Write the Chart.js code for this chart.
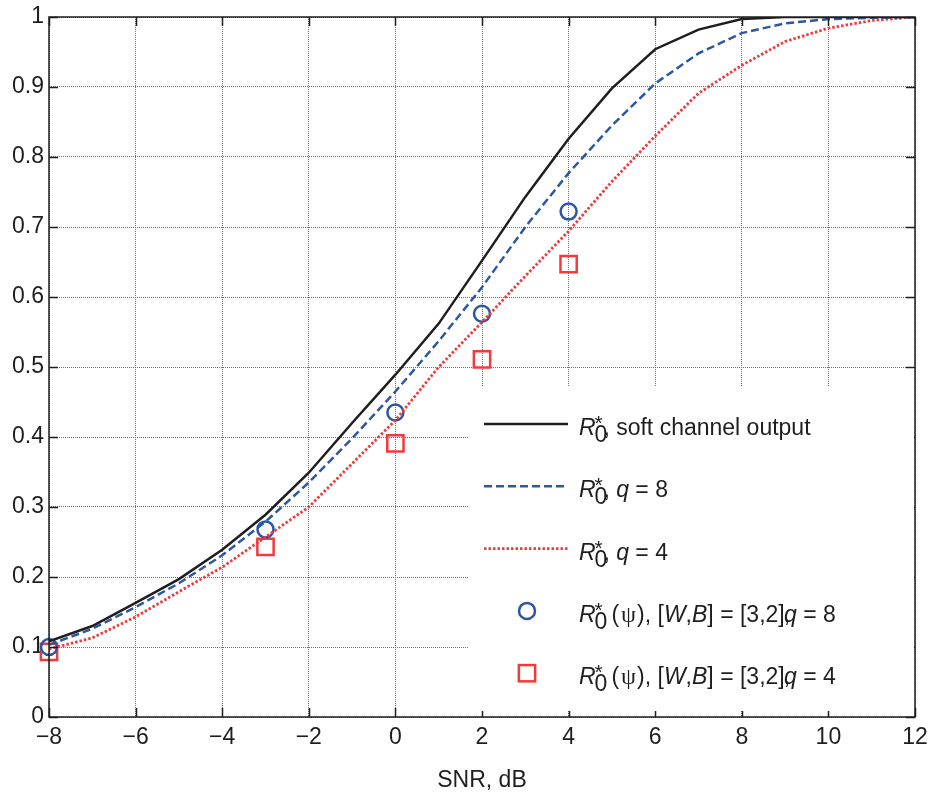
<!DOCTYPE html>
<html>
<head>
<meta charset="utf-8">
<script src="https://cdn.jsdelivr.net/npm/chart.js@4.4.1/dist/chart.umd.min.js"></script>
<style>
  html, body { margin: 0; padding: 0; background: #fff; }
  #wrap { width: 929px; height: 796px; }
</style>
</head>
<body>
<div id="wrap"><canvas id="chart" width="929" height="796"></canvas></div>
<script>
// SNR grid (dB) and curves
const snr = [-8, -7, -6, -5, -4, -3, -2, -1, 0, 1, 2, 3, 4, 5, 6, 7, 8, 9, 10, 11, 12];
const softOutput = [0.108, 0.130, 0.163, 0.197, 0.239, 0.289, 0.349, 0.420, 0.489, 0.562, 0.652, 0.743, 0.826, 0.898, 0.954, 0.982, 0.997, 1.0, 1.0, 1.0, 1.0];
const quantQ8 = [0.103, 0.126, 0.157, 0.191, 0.231, 0.279, 0.335, 0.398, 0.465, 0.537, 0.614, 0.700, 0.777, 0.845, 0.905, 0.948, 0.977, 0.991, 0.997, 0.999, 1.0];
const quantQ4 = [0.097, 0.113, 0.143, 0.179, 0.214, 0.257, 0.300, 0.362, 0.424, 0.500, 0.564, 0.630, 0.694, 0.765, 0.830, 0.891, 0.931, 0.965, 0.984, 0.995, 1.0];

// marker points R0*(psi), [W,B] = [3,2]
const markerSnr = [-8, -3, 0, 2, 4];
const psiQ8 = [0.100, 0.268, 0.435, 0.576, 0.722];
const psiQ4 = [0.093, 0.243, 0.391, 0.511, 0.647];

const xMin = -8, xMax = 12, xStep = 2;
const yMin = 0, yMax = 1, yStep = 0.1;

const BLACK = '#1e1e1e';
const BLUE = '#2c57a3';
const RED = '#ef3b3b';
const GRID = '#6e6e6e';
const FONT = "'Liberation Sans', Arial, sans-serif";

function pts(xs, ys) {
    return xs.map((x, i) => ({ x: x, y: ys[i] }));
}

const datasets = [
    { label: 'soft', data: pts(snr, softOutput), borderColor: BLACK, borderWidth: 2.5, pointRadius: 0, fill: false, tension: 0 },
    { label: 'q8', data: pts(snr, quantQ8), borderColor: BLUE, borderWidth: 2.5, borderDash: [8, 4], pointRadius: 0, fill: false, tension: 0 },
    { label: 'q4', data: pts(snr, quantQ4), borderColor: RED, borderWidth: 2.8, borderDash: [2.5, 2], pointRadius: 0, fill: false, tension: 0 },
    { label: 'psi8', data: pts(markerSnr, psiQ8), showLine: false, clip: false, pointStyle: 'circle', pointRadius: 8, pointBorderWidth: 2.5,
      pointBorderColor: BLUE, pointBackgroundColor: 'rgba(0,0,0,0)' },
    { label: 'psi4', data: pts(markerSnr, psiQ4), showLine: false, clip: false, pointStyle: 'rect', pointRadius: 11.5, pointBorderWidth: 2.5,
      pointBorderColor: RED, pointBackgroundColor: 'rgba(0,0,0,0)' }
];

// draw italic R with * superscript and 0 subscript, return new x
function drawR0(ctx, x, y) {
    ctx.font = 'italic 23px ' + FONT;
    ctx.fillText('R', x, y);
    x += ctx.measureText('R').width - 1;
    ctx.font = '21px ' + FONT;
    ctx.fillText('*', x, y - 5);
    ctx.font = '23px ' + FONT;
    ctx.fillText('0', x, y + 7);
    return x + ctx.measureText('0').width;
}

function drawParts(ctx, x, y, parts) {
    parts.forEach(p => {
        if (p.s === 'i') ctx.font = 'italic 23px ' + FONT;
        else if (p.s === 'g') ctx.font = "24px 'Liberation Serif', 'Times New Roman', serif";
        else ctx.font = '23px ' + FONT;
        x += p.dx || 0;
        ctx.fillText(p.t, x, y);
        x += ctx.measureText(p.t).width;
    });
    return x;
}

const psiParts = [{ t: '(', dx: 4 }, { t: '\u03C8', s: 'g', dx: 2 }, { t: ')', dx: 1 }, { t: ', [' }, { t: 'W', s: 'i' }, { t: ',' }, { t: 'B', s: 'i' },
    { t: '] = [3,2]' }, { t: ',', dx: -1 }, { t: 'q', s: 'i', dx: -6 }];

const legendRows = [
    { kind: 'line', ds: 0, parts: [{ t: ',', dx: -4 }, { t: ' soft channel output' }] },
    { kind: 'line', ds: 1, parts: [{ t: ',', dx: -4 }, { t: ' ' }, { t: 'q', s: 'i' }, { t: ' = 8' }] },
    { kind: 'line', ds: 2, parts: [{ t: ',', dx: -4 }, { t: ' ' }, { t: 'q', s: 'i' }, { t: ' = 4' }] },
    { kind: 'circle', ds: 3, parts: psiParts.concat([{ t: ' = 8' }]) },
    { kind: 'rect', ds: 4, parts: psiParts.concat([{ t: ' = 4' }]) }
];

const framePlugin = {
    id: 'frame',
    afterDatasetsDraw(chart) {
        const ctx = chart.ctx;
        const a = chart.chartArea;
        const xs = chart.scales.x, ys = chart.scales.y;
        ctx.save();
        // inside ticks
        ctx.strokeStyle = BLACK;
        ctx.lineWidth = 1.5;
        ctx.beginPath();
        xs.ticks.forEach(t => {
            const px = Math.round(xs.getPixelForValue(t.value)) + 0.5;
            ctx.moveTo(px, a.bottom); ctx.lineTo(px, a.bottom - 9);
            ctx.moveTo(px, a.top); ctx.lineTo(px, a.top + 9);
        });
        ys.ticks.forEach(t => {
            const py = Math.round(ys.getPixelForValue(t.value)) + 0.5;
            ctx.moveTo(a.left, py); ctx.lineTo(a.left + 9, py);
            ctx.moveTo(a.right, py); ctx.lineTo(a.right - 9, py);
        });
        ctx.stroke();

        // legend box (white, no edge)
        const lx = 468, ly = 387, lw = a.right - 1 - lx, lh = 711 - ly;
        ctx.fillStyle = '#fff';
        ctx.fillRect(lx, ly, lw, lh);

        const rowY0 = 424, rowGap = 62.3;
        legendRows.forEach((row, i) => {
            const cy = rowY0 + i * rowGap;
            const ds = chart.data.datasets[row.ds];
            if (row.kind === 'line') {
                ctx.strokeStyle = ds.borderColor;
                ctx.lineWidth = ds.borderWidth;
                ctx.setLineDash(ds.borderDash || []);
                ctx.beginPath();
                ctx.moveTo(484, cy); ctx.lineTo(568, cy);
                ctx.stroke();
                ctx.setLineDash([]);
            } else if (row.kind === 'circle') {
                ctx.strokeStyle = ds.pointBorderColor;
                ctx.lineWidth = ds.pointBorderWidth;
                ctx.beginPath();
                ctx.arc(527, cy, ds.pointRadius, 0, Math.PI * 2);
                ctx.stroke();
            } else {
                const h = ds.pointRadius * Math.SQRT1_2;
                ctx.strokeStyle = ds.pointBorderColor;
                ctx.lineWidth = ds.pointBorderWidth;
                ctx.strokeRect(527 - h, cy - h, 2 * h, 2 * h);
            }
            ctx.fillStyle = BLACK;
            ctx.textBaseline = 'alphabetic';
            ctx.textAlign = 'left';
            const base = cy + 11;
            const x = drawR0(ctx, 579, base);
            drawParts(ctx, x, base, row.parts);
        });
        ctx.restore();
    },
    afterDraw(chart) {
        const ctx = chart.ctx;
        const a = chart.chartArea;
        ctx.save();
        ctx.strokeStyle = BLACK;
        ctx.lineWidth = 1.5;
        ctx.strokeRect(a.left, a.top, a.right - a.left, a.bottom - a.top);
        ctx.restore();
    }
};

new Chart(document.getElementById('chart').getContext('2d'), {
    type: 'line',
    data: { datasets: datasets },
    options: {
        responsive: false,
        animation: false,
        devicePixelRatio: 1,
        layout: { padding: { top: 17, right: 13, left: 0, bottom: 0 } },
        plugins: { legend: { display: false }, tooltip: { enabled: false } },
        scales: {
            x: {
                type: 'linear',
                min: xMin, max: xMax,
                afterFit(scale) {
                    scale.height = 79;
                    scale.paddingLeft = 0;
                    scale.paddingRight = 0;
                },
                ticks: {
                    stepSize: xStep,
                    color: BLACK,
                    padding: 7,
                    maxRotation: 0,
                    font: { family: FONT, size: 23 },
                    callback: v => (v < 0 ? '\u2212' + Math.abs(v) : String(v))
                },
                grid: { color: GRID, lineWidth: 1, drawTicks: false },
                border: { display: false, dash: [1, 1] },
                title: {
                    display: true,
                    text: 'SNR, dB',
                    color: BLACK,
                    font: { family: FONT, size: 23 },
                    padding: { top: 0, bottom: 2 }
                }
            },
            y: {
                type: 'linear',
                min: yMin, max: yMax,
                afterFit(scale) {
                    scale.width = 49;
                    scale.paddingTop = 0;
                    scale.paddingBottom = 0;
                },
                ticks: {
                    stepSize: yStep,
                    color: BLACK,
                    padding: 5,
                    font: { family: FONT, size: 23 },
                    callback: v => String(Number(v.toFixed(1)))
                },
                grid: { color: GRID, lineWidth: 1, drawTicks: false },
                border: { display: false, dash: [1, 1] }
            }
        }
    },
    plugins: [framePlugin]
});
</script>
</body>
</html>
